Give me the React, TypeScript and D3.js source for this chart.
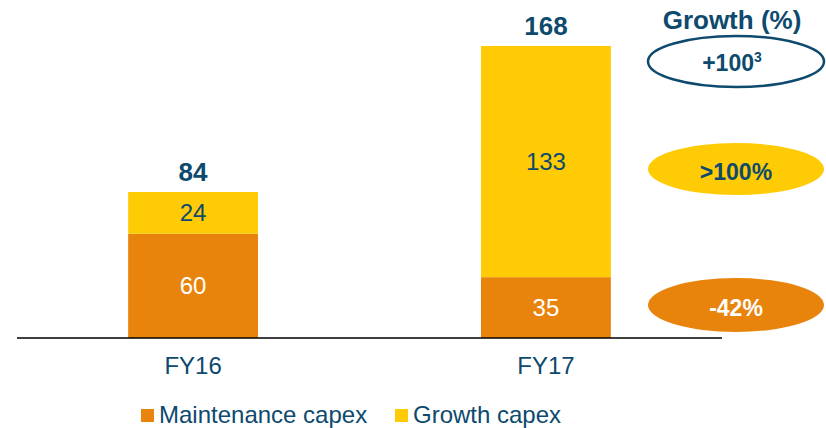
import React from 'react';
import * as d3 from 'd3';

const years = ['FY16', 'FY17'];
const maintenance = [60, 35];
const growth = [24, 133];
const totals = [84, 168];

const growthLabels = ['+100', '>100%', '-42%'];
const seriesNames = ['Maintenance capex', 'Growth capex'];

const ORANGE = '#E8830C';
const YELLOW = '#FFCB05';
const NAVY = '#0D4A6E';
const FONT = "'Liberation Sans', Arial, sans-serif";

const App = () => {
  const width = 826;
  const height = 428;

  const x = d3.scaleBand<string>().domain(years).range([17, 722]).paddingInner(0.632).paddingOuter(0.315);
  const y = d3.scaleLinear().domain([0, 168]).range([338, 46]);
  const bw = x.bandwidth();

  const stack = d3.stack<any>().keys(['maintenance', 'growth']);
  const rows = years.map((yr, i) => ({ year: yr, maintenance: maintenance[i], growth: growth[i] }));
  const layers = stack(rows);
  const colors = [ORANGE, YELLOW];
  const labelColors = ['#ffffff', NAVY];

  const ex = 736;
  const erx = 88;

  return (
    <svg width={width} height={height} style={{ position: 'absolute', left: 0, top: 0 }} fontFamily={FONT}>
      {layers.map((layer, li) => (
        <g key={li}>
          {layer.map((d, i) => (
            <g key={i}>
              <rect x={x(years[i])} y={y(d[1])} width={bw} height={y(d[0]) - y(d[1])} fill={colors[li]} />
              <text
                x={(x(years[i]) as number) + bw / 2}
                y={(y(d[0]) + y(d[1])) / 2}
                dy="0.35em"
                textAnchor="middle"
                fontSize={24}
                fill={labelColors[li]}
              >
                {d[1] - d[0]}
              </text>
            </g>
          ))}
        </g>
      ))}
      {totals.map((t, i) => (
        <text key={i} x={(x(years[i]) as number) + bw / 2} y={y(t) - 20} dy="0.35em" textAnchor="middle" fontSize={26} fontWeight="bold" fill={NAVY}>
          {t}
        </text>
      ))}
      <line x1={17} x2={722} y1={y(0)} y2={y(0)} stroke="#000" strokeWidth={1.5} />
      {years.map((yr) => (
        <text key={yr} x={(x(yr) as number) + bw / 2} y={366} dy="0.35em" textAnchor="middle" fontSize={24} fill={NAVY}>
          {yr}
        </text>
      ))}

      <text x={732} y={20} dy="0.35em" textAnchor="middle" fontSize={26} fontWeight="bold" fill={NAVY}>Growth (%)</text>
      <ellipse cx={ex} cy={61.5} rx={erx} ry={25.5} fill="none" stroke={NAVY} strokeWidth={2.5} />
      <text x={ex - 4} y={63} dy="0.35em" textAnchor="middle" fontSize={23} fontWeight="bold" fill={NAVY}>
        {growthLabels[0]}
        <tspan fontSize={14} dy={-9}>3</tspan>
      </text>
      <ellipse cx={ex} cy={169} rx={erx} ry={26} fill={YELLOW} />
      <text x={ex} y={172} dy="0.35em" textAnchor="middle" fontSize={23} fontWeight="bold" fill={NAVY}>{growthLabels[1]}</text>
      <ellipse cx={ex} cy={305} rx={erx} ry={27} fill={ORANGE} />
      <text x={ex} y={308} dy="0.35em" textAnchor="middle" fontSize={23} fontWeight="bold" fill="#fff">{growthLabels[2]}</text>

      <rect x={141} y={409} width={13} height={13} fill={ORANGE} />
      <text x={159} y={423} fontSize={24} fill={NAVY}>{seriesNames[0]}</text>
      <rect x={395} y={409} width={13} height={13} fill={YELLOW} />
      <text x={413} y={423} fontSize={24} fill={NAVY}>{seriesNames[1]}</text>
    </svg>
  );
};

export default App;
